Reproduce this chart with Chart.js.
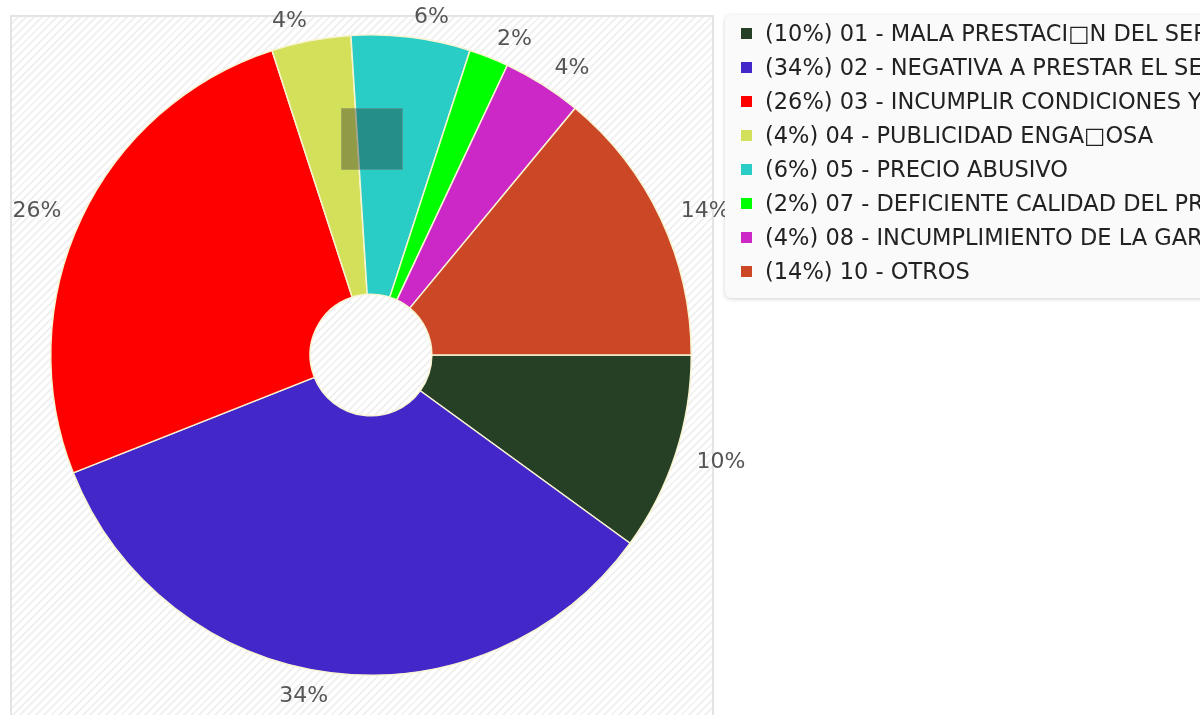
<!DOCTYPE html>
<html>
<head>
<meta charset="utf-8">
<script src="https://cdn.jsdelivr.net/npm/chart.js@4"></script>
<style>
	body { margin: 0; width: 1200px; height: 715px; overflow: hidden; background: #fff; font-family: "DejaVu Sans", sans-serif; }
	#plot-box {
		position: absolute; left: 10px; top: 15px; width: 700px; height: 720px;
		border: 2px solid #e4e4e4;
		background: repeating-linear-gradient(135deg, #fff 0px, #fff 3.5px, #f1f1f1 3.5px, #f1f1f1 5.5px);
	}
	#chart-wrap { position: absolute; left: 0; top: 0; width: 1200px; height: 715px; }
	#legend {
		position: absolute; left: 725px; top: 15px; width: 520px; height: 283px;
		background: #fafafa; border-radius: 6px;
		box-shadow: 0 1px 4px rgba(0, 0, 0, 0.18);
	}
	.legend-row { position: absolute; left: 0; height: 34px; line-height: 34px; white-space: nowrap; font-size: 22.5px; color: #222; }
	.legend-mark { position: absolute; left: 16px; top: 12px; width: 11px; height: 11px; }
	.legend-text { position: absolute; left: 40px; top: 0; }
</style>
</head>
<body>
<div id="plot-box"></div>
<div id="chart-wrap"><canvas id="grid-1" width="1200" height="715"></canvas></div>
<div id="legend"></div>
<script>
const categories = [
	"01 - MALA PRESTACI\u25A1N DEL SERVICIO",
	"02 - NEGATIVA A PRESTAR EL SERVICIO",
	"03 - INCUMPLIR CONDICIONES Y TERMINOS",
	"04 - PUBLICIDAD ENGA\u25A1OSA",
	"05 - PRECIO ABUSIVO",
	"07 - DEFICIENTE CALIDAD DEL PRODUCTO",
	"08 - INCUMPLIMIENTO DE LA GARANTIA",
	"10 - OTROS"
];
const percent_values = [10, 34, 26, 4, 6, 2, 4, 14];
const slice_colors = ["#264026", "#4427c9", "#ff0000", "#d2e05a", "#29cdc6", "#00ff00", "#cc28c8", "#cc4726"];

// percentage labels outside the pie
const outside_labels = {
	id: 'outside_labels',
	afterDatasetsDraw(chart) {
		const ctx = chart.ctx;
		const arcs = chart.getDatasetMeta(0).data;
		ctx.save();
		ctx.font = '22px "DejaVu Sans"';
		ctx.fillStyle = '#555';
		ctx.textBaseline = 'middle';
		arcs.forEach((arc, i) => {
			const mid = (arc.startAngle + arc.endAngle) / 2;
			const r = arc.outerRadius + 22;
			const cos = Math.cos(mid);
			ctx.textAlign = cos >= 0 ? 'left' : 'right';
			ctx.fillText(percent_values[i] + '%', arc.x + r * cos, arc.y + r * Math.sin(mid) + 2);
		});
		ctx.restore();
	}
};

// the translucent grey square sitting on the pie
const grey_square = {
	id: 'grey_square',
	afterDraw(chart) {
		const ctx = chart.ctx;
		ctx.save();
		ctx.fillStyle = 'rgba(30, 30, 30, 0.36)';
		ctx.fillRect(341, 108, 62, 62);
		ctx.strokeStyle = 'rgba(255, 255, 255, 0.15)';
		ctx.strokeRect(341.5, 108.5, 61, 61);
		ctx.restore();
	}
};

new Chart(document.getElementById("grid-1"), {
	type: 'doughnut',
	data: {
		labels: categories,
		datasets: [{
			data: percent_values,
			backgroundColor: slice_colors,
			borderColor: '#f8f4d2',
			borderWidth: 1.5
		}]
	},
	options: {
		responsive: false,
		animation: false,
		cutout: '19%',
		rotation: 90,
		layout: { padding: { left: 50, right: 508, top: 34, bottom: 39 } },
		plugins: {
			legend: { display: false },
			tooltip: { enabled: false }
		}
	},
	plugins: [outside_labels, grey_square]
});

const legend = document.getElementById("legend");
categories.forEach((name, i) => {
	const row = document.createElement("div");
	row.className = "legend-row";
	row.style.top = (1 + i * 34) + "px";
	row.innerHTML = '<span class="legend-mark" style="background:' + slice_colors[i] + '"></span>' +
		'<span class="legend-text">(' + percent_values[i] + '%) ' + name + '</span>';
	legend.appendChild(row);
});
</script>
</body>
</html>
